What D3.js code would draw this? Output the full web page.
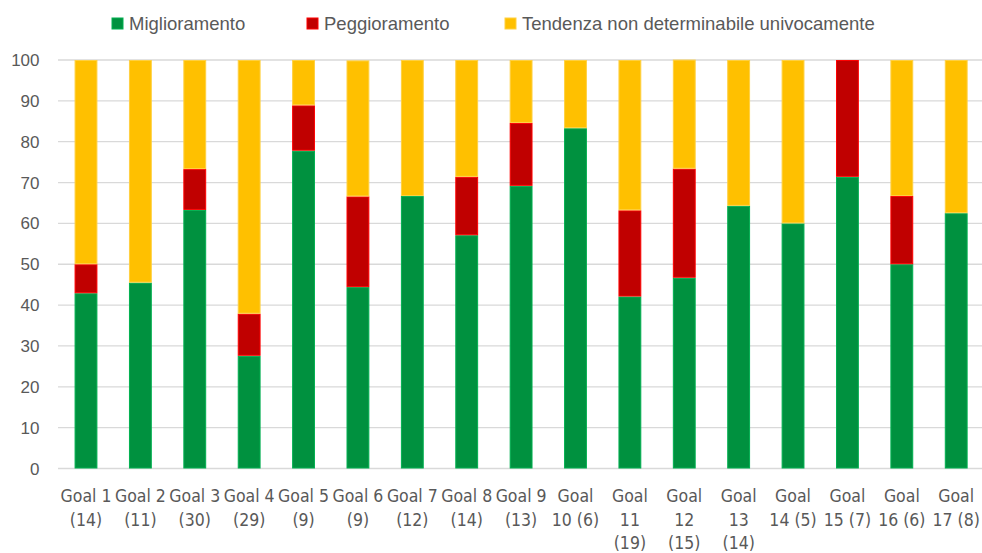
<!DOCTYPE html>
<html>
<head>
<meta charset="utf-8">
<script src="https://cdn.jsdelivr.net/npm/d3@7"></script>
<style>
  body { margin: 0; background: #fff; }
  text { font-family: "Liberation Sans", Arial, sans-serif; fill: #595959; }
  .xl text { font-family: "Liberation Sans Narrow", "DejaVu Sans Condensed", "Liberation Sans", sans-serif; }
</style>
</head>
<body>
<svg id="svg" width="982" height="553"></svg>
<script>
// goals and the tick label lines as they wrap under each bar
var goals = ["Goal 1", "Goal 2", "Goal 3", "Goal 4", "Goal 5", "Goal 6", "Goal 7", "Goal 8", "Goal 9",
  "Goal 10", "Goal 11", "Goal 12", "Goal 13", "Goal 14", "Goal 15", "Goal 16", "Goal 17"];
var tickLines = [
  ["Goal 1", "(14)"], ["Goal 2", "(11)"], ["Goal 3", "(30)"], ["Goal 4", "(29)"], ["Goal 5", "(9)"],
  ["Goal 6", "(9)"], ["Goal 7", "(12)"], ["Goal 8", "(14)"], ["Goal 9", "(13)"], ["Goal", "10 (6)"],
  ["Goal", "11", "(19)"], ["Goal", "12", "(15)"], ["Goal", "13", "(14)"], ["Goal", "14 (5)"],
  ["Goal", "15 (7)"], ["Goal", "16 (6)"], ["Goal", "17 (8)"]
];
// percentages
var miglioramento = [42.9, 45.5, 63.3, 27.6, 77.8, 44.4, 66.7, 57.1, 69.2, 83.3, 42.1, 46.7, 64.3, 60.0, 71.4, 50.0, 62.5];
var peggioramento = [7.1, 0, 10.0, 10.3, 11.1, 22.2, 0, 14.3, 15.4, 0, 21.1, 26.7, 0, 0, 28.6, 16.7, 0];
var nonDeterminabile = [50.0, 54.5, 26.7, 62.1, 11.1, 33.3, 33.3, 28.6, 15.4, 16.7, 36.8, 26.7, 35.7, 40.0, 0, 33.3, 37.5];
var seriesNames = ["Miglioramento", "Peggioramento", "Tendenza non determinabile univocamente"];
var yTicks = [0, 10, 20, 30, 40, 50, 60, 70, 80, 90, 100];

var fills = ["#00913f", "#c00000", "#ffc000"];
var strokes = ["#00b050", "#ff0000", "#ffd040"];

var svg = d3.select("#svg");

var x = d3.scaleBand().domain(goals).range([58.8, 983.4]).paddingInner(0.58).paddingOuter(0.29);
var y = d3.scaleLinear().domain([0, 100]).range([468.5, 60]);

// gridlines
svg.append("g").selectAll("line").data(yTicks).join("line")
  .attr("x1", 58).attr("x2", 982)
  .attr("y1", d => y(d)).attr("y2", d => y(d))
  .attr("stroke", "#d9d9d9").attr("stroke-width", 1.3);

// y labels
svg.append("g").selectAll("text").data(yTicks).join("text")
  .attr("x", 39.5).attr("y", d => y(d) + 6)
  .attr("text-anchor", "end").attr("font-size", 17)
  .text(d => d);

var rows = goals.map((g, i) => ({
  goal: g, Miglioramento: miglioramento[i], Peggioramento: peggioramento[i],
  "Tendenza non determinabile univocamente": nonDeterminabile[i]
}));
var stack = d3.stack().keys(seriesNames)(rows);

svg.append("g").selectAll("g").data(stack).join("g")
  .attr("fill", (d, i) => fills[i]).attr("stroke", (d, i) => strokes[i])
  .selectAll("rect").data(d => d.filter(p => p[1] - p[0] > 0)).join("rect")
  .attr("x", d => x(d.data.goal) + 0.5)
  .attr("width", x.bandwidth() - 1)
  .attr("y", d => y(d[1]) + 0.5)
  .attr("height", d => Math.max(0, y(d[0]) - y(d[1]) - 1))
  .attr("stroke-width", 1);

// x labels
var xl = svg.append("g").attr("class", "xl").selectAll("text").data(goals).join("text")
  .attr("text-anchor", "middle").attr("font-size", 17.5)
  .attr("transform", d => "translate(" + (x(d) + x.bandwidth() / 2) + ",502)");
xl.selectAll("tspan").data((d, i) => tickLines[i]).join("tspan")
  .attr("x", 0).attr("y", (d, j) => j * 23.5)
  .text(d => d);

// legend
var legendX = [112, 307, 505];
var lg = svg.append("g").selectAll("g").data(seriesNames).join("g")
  .attr("transform", (d, i) => "translate(" + legendX[i] + ",0)");
lg.append("rect").attr("x", 0).attr("y", 18).attr("width", 11).attr("height", 11)
  .attr("fill", (d, i) => fills[i]).attr("stroke", (d, i) => strokes[i]).attr("stroke-width", 1);
lg.append("text").attr("x", 17).attr("y", 29.5).attr("font-size", 18.5).text(d => d);
</script>
</body>
</html>
